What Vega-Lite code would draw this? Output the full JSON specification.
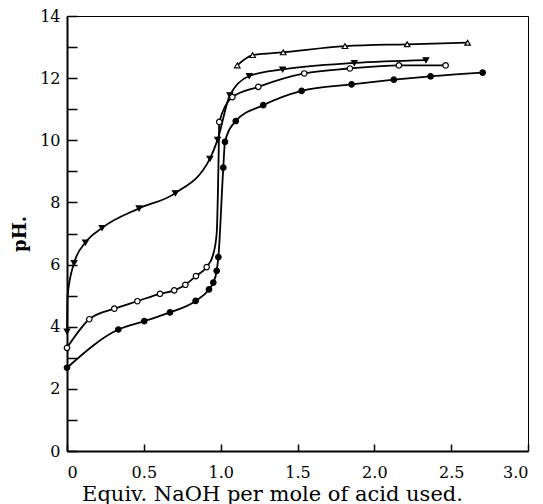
{
  "$schema": "https://vega.github.io/schema/vega-lite/v6.json",
  "width": 461,
  "height": 435,
  "autosize": {"type": "none"},
  "padding": {"left": 67, "top": 16, "right": 15, "bottom": 53},
  "background": "white",
  "config": {
    "view": {"stroke": "black", "strokeWidth": 1},
    "axis": {
      "domainColor": "black",
      "domainWidth": 2,
      "tickColor": "black",
      "tickWidth": 1.5,
      "grid": false,
      "labelFont": "DejaVu Serif",
      "labelColor": "black",
      "labelFontSize": 16,
      "titleFont": "DejaVu Serif",
      "titleColor": "black",
      "titleFontWeight": "normal",
      "titleFontSize": 18
    }
  },
  "datasets": {
    "measured": [
      {"series": "A", "naoh": 0, "pH": 3.85},
      {"series": "A", "naoh": 0.046, "pH": 6.05},
      {"series": "A", "naoh": 0.12, "pH": 6.71},
      {"series": "A", "naoh": 0.228, "pH": 7.18},
      {"series": "A", "naoh": 0.469, "pH": 7.81},
      {"series": "A", "naoh": 0.705, "pH": 8.3},
      {"series": "A", "naoh": 0.93, "pH": 9.41},
      {"series": "A", "naoh": 0.98, "pH": 10.02},
      {"series": "A", "naoh": 1.06, "pH": 11.45},
      {"series": "A", "naoh": 1.186, "pH": 12.07},
      {"series": "A", "naoh": 1.403, "pH": 12.28},
      {"series": "A", "naoh": 1.87, "pH": 12.49},
      {"series": "A", "naoh": 2.336, "pH": 12.58},
      {"series": "B", "naoh": 0, "pH": 3.32},
      {"series": "B", "naoh": 0.145, "pH": 4.24},
      {"series": "B", "naoh": 0.308, "pH": 4.58},
      {"series": "B", "naoh": 0.458, "pH": 4.82},
      {"series": "B", "naoh": 0.605, "pH": 5.06},
      {"series": "B", "naoh": 0.698, "pH": 5.17},
      {"series": "B", "naoh": 0.77, "pH": 5.35},
      {"series": "B", "naoh": 0.839, "pH": 5.63},
      {"series": "B", "naoh": 0.909, "pH": 5.92},
      {"series": "B", "naoh": 0.991, "pH": 10.59},
      {"series": "B", "naoh": 1.076, "pH": 11.39},
      {"series": "B", "naoh": 1.245, "pH": 11.72},
      {"series": "B", "naoh": 1.544, "pH": 12.15},
      {"series": "B", "naoh": 1.841, "pH": 12.31},
      {"series": "B", "naoh": 2.16, "pH": 12.41},
      {"series": "B", "naoh": 2.464, "pH": 12.41},
      {"series": "C", "naoh": 0, "pH": 2.68},
      {"series": "C", "naoh": 0.334, "pH": 3.91},
      {"series": "C", "naoh": 0.503, "pH": 4.18},
      {"series": "C", "naoh": 0.67, "pH": 4.46},
      {"series": "C", "naoh": 0.837, "pH": 4.83},
      {"series": "C", "naoh": 0.924, "pH": 5.2},
      {"series": "C", "naoh": 0.952, "pH": 5.42},
      {"series": "C", "naoh": 0.974, "pH": 5.8},
      {"series": "C", "naoh": 0.985, "pH": 6.24},
      {"series": "C", "naoh": 1.017, "pH": 9.12},
      {"series": "C", "naoh": 1.028, "pH": 9.95},
      {"series": "C", "naoh": 1.098, "pH": 10.62},
      {"series": "C", "naoh": 1.277, "pH": 11.13},
      {"series": "C", "naoh": 1.527, "pH": 11.59},
      {"series": "C", "naoh": 1.852, "pH": 11.8},
      {"series": "C", "naoh": 2.127, "pH": 11.95},
      {"series": "C", "naoh": 2.366, "pH": 12.06},
      {"series": "C", "naoh": 2.705, "pH": 12.18},
      {"series": "D", "naoh": 1.108, "pH": 12.41},
      {"series": "D", "naoh": 1.208, "pH": 12.74},
      {"series": "D", "naoh": 1.407, "pH": 12.83},
      {"series": "D", "naoh": 1.809, "pH": 13.03},
      {"series": "D", "naoh": 2.214, "pH": 13.09},
      {"series": "D", "naoh": 2.607, "pH": 13.14}
    ],
    "curve": [
      {"series": "A", "naoh": 0, "pH": 3.85},
      {"series": "A", "naoh": 0.004, "pH": 5.0},
      {"series": "A", "naoh": 0.046, "pH": 6.05},
      {"series": "A", "naoh": 0.12, "pH": 6.71},
      {"series": "A", "naoh": 0.228, "pH": 7.18},
      {"series": "A", "naoh": 0.469, "pH": 7.81},
      {"series": "A", "naoh": 0.705, "pH": 8.3},
      {"series": "A", "naoh": 0.93, "pH": 9.41},
      {"series": "A", "naoh": 0.98, "pH": 10.02},
      {"series": "A", "naoh": 1.06, "pH": 11.45},
      {"series": "A", "naoh": 1.186, "pH": 12.07},
      {"series": "A", "naoh": 1.403, "pH": 12.28},
      {"series": "A", "naoh": 1.87, "pH": 12.49},
      {"series": "A", "naoh": 2.336, "pH": 12.58},
      {"series": "B", "naoh": 0, "pH": 3.32},
      {"series": "B", "naoh": 0.145, "pH": 4.24},
      {"series": "B", "naoh": 0.308, "pH": 4.58},
      {"series": "B", "naoh": 0.458, "pH": 4.82},
      {"series": "B", "naoh": 0.605, "pH": 5.06},
      {"series": "B", "naoh": 0.698, "pH": 5.17},
      {"series": "B", "naoh": 0.77, "pH": 5.35},
      {"series": "B", "naoh": 0.839, "pH": 5.63},
      {"series": "B", "naoh": 0.909, "pH": 5.92},
      {"series": "B", "naoh": 0.95, "pH": 6.3},
      {"series": "B", "naoh": 0.974, "pH": 7.0},
      {"series": "B", "naoh": 0.982, "pH": 8.3},
      {"series": "B", "naoh": 0.987, "pH": 9.6},
      {"series": "B", "naoh": 0.991, "pH": 10.59},
      {"series": "B", "naoh": 1.076, "pH": 11.39},
      {"series": "B", "naoh": 1.245, "pH": 11.72},
      {"series": "B", "naoh": 1.544, "pH": 12.15},
      {"series": "B", "naoh": 1.841, "pH": 12.31},
      {"series": "B", "naoh": 2.16, "pH": 12.41},
      {"series": "B", "naoh": 2.464, "pH": 12.41},
      {"series": "C", "naoh": 0, "pH": 2.68},
      {"series": "C", "naoh": 0.334, "pH": 3.91},
      {"series": "C", "naoh": 0.503, "pH": 4.18},
      {"series": "C", "naoh": 0.67, "pH": 4.46},
      {"series": "C", "naoh": 0.837, "pH": 4.83},
      {"series": "C", "naoh": 0.924, "pH": 5.2},
      {"series": "C", "naoh": 0.952, "pH": 5.42},
      {"series": "C", "naoh": 0.974, "pH": 5.8},
      {"series": "C", "naoh": 0.985, "pH": 6.24},
      {"series": "C", "naoh": 1.017, "pH": 9.12},
      {"series": "C", "naoh": 1.028, "pH": 9.95},
      {"series": "C", "naoh": 1.098, "pH": 10.62},
      {"series": "C", "naoh": 1.277, "pH": 11.13},
      {"series": "C", "naoh": 1.527, "pH": 11.59},
      {"series": "C", "naoh": 1.852, "pH": 11.8},
      {"series": "C", "naoh": 2.127, "pH": 11.95},
      {"series": "C", "naoh": 2.366, "pH": 12.06},
      {"series": "C", "naoh": 2.705, "pH": 12.18},
      {"series": "D", "naoh": 1.108, "pH": 12.41},
      {"series": "D", "naoh": 1.208, "pH": 12.74},
      {"series": "D", "naoh": 1.407, "pH": 12.83},
      {"series": "D", "naoh": 1.809, "pH": 13.03},
      {"series": "D", "naoh": 2.214, "pH": 13.09},
      {"series": "D", "naoh": 2.607, "pH": 13.14}
    ]
  },
  "encoding": {
    "x": {
      "field": "naoh",
      "type": "quantitative",
      "scale": {"domain": [0, 3], "nice": false, "zero": false},
      "axis": {
        "values": [0, 0.5, 1, 1.5, 2, 2.5, 3],
        "labelExpr": "datum.value == 0 ? '0' : format(datum.value, '.1f')",
        "tickSize": -7,
        "labelPadding": 20,
        "title": "Equiv. NaOH per mole of acid used.",
        "titlePadding": 3,
        "titleFontSize": 21,
        "titleX": 205
      }
    },
    "y": {
      "field": "pH",
      "type": "quantitative",
      "scale": {"domain": [0, 14], "nice": false, "zero": false},
      "axis": {
        "values": [0, 1, 2, 3, 4, 5, 6, 7, 8, 9, 10, 11, 12, 13, 14],
        "labelExpr": "datum.value % 2 == 0 ? datum.label : ''",
        "tickSize": -10,
        "labelPadding": 17,
        "title": "pH.",
        "titlePadding": 10,
        "titleFontWeight": "bold"
      }
    }
  },
  "layer": [
    {
      "data": {"name": "curve"},
      "mark": {"type": "line", "interpolate": "monotone", "color": "black", "strokeWidth": 1.8},
      "encoding": {"detail": {"field": "series"}}
    },
    {
      "data": {"name": "measured"},
      "mark": {"type": "point", "filled": true, "stroke": "black", "strokeWidth": 1.2, "size": 30, "opacity": 1},
      "encoding": {
        "shape": {
          "field": "series",
          "scale": {"domain": ["A", "B", "C", "D"], "range": ["triangle-down", "circle", "circle", "triangle-up"]},
          "legend": null
        },
        "fill": {
          "field": "series",
          "scale": {"domain": ["A", "B", "C", "D"], "range": ["black", "white", "black", "white"]},
          "legend": null
        }
      }
    }
  ]
}
